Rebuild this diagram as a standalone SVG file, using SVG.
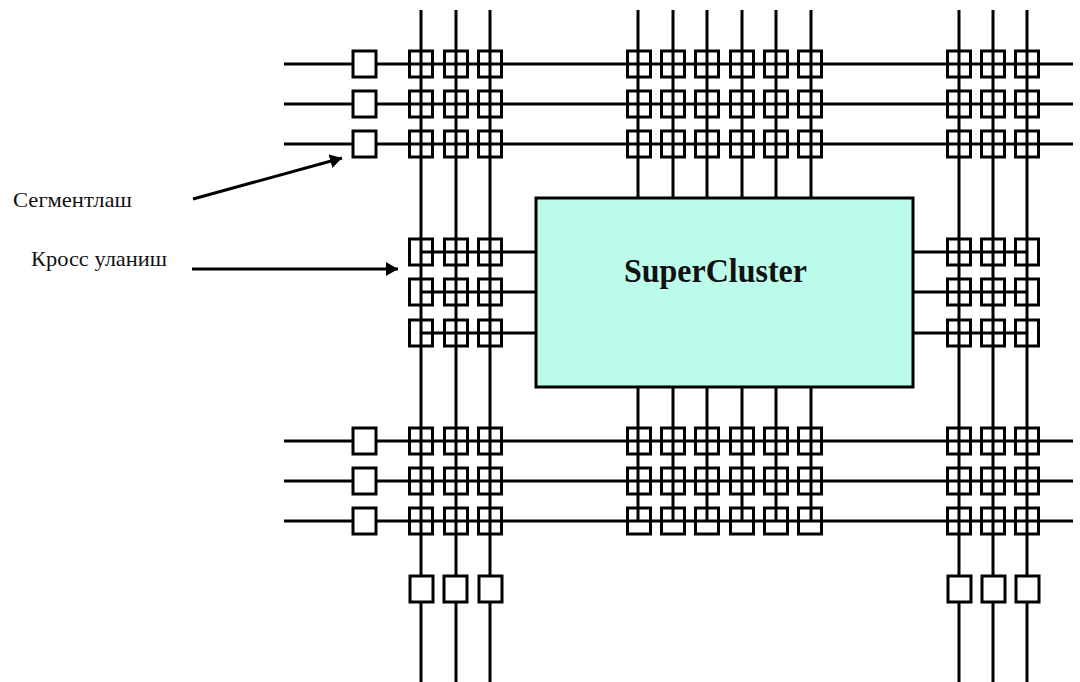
<svg xmlns="http://www.w3.org/2000/svg" width="1080" height="682" viewBox="0 0 1080 682">
<defs>
<marker id="ah" markerUnits="userSpaceOnUse" markerWidth="14" markerHeight="16" refX="12" refY="7" orient="auto"><path d="M0 0L12 7L0 14Z" fill="#000"/></marker>
<g id="x"><rect x="-11.500" y="-13" width="23" height="26" class="s"/></g>
</defs>
<style>
.l{stroke:#000;stroke-width:3;fill:none}
.s{stroke:#000;stroke-width:3;fill:none}
.w{stroke:#000;stroke-width:3;fill:#fff}
.t{font-family:"Liberation Serif",serif;font-size:22px;fill:#111}
</style>
<rect width="1080" height="682" fill="#fff"/>
<g id="connectors">
<path class="l" d="M284 64H1073M284 104H1073M284 144H1073M284 441H1073M284 481H1073M284 521H1073"/>
<path class="l" d="M421 10V682M456 10V682M490 10V682M959 10V682M993 10V682M1027 10V682"/>
<path class="l" d="M638 10V198M673 10V198M707 10V198M742 10V198M776 10V198M811 10V198"/>
<path class="l" d="M638 387V521M673 387V521M707 387V521M742 387V521M776 387V521M811 387V521"/>
<path class="l" d="M421 252H535M421 292H535M421 333H535M913 252H1027M913 292H1027M913 333H1027"/>
<path class="l" marker-end="url(#ah)" d="M193 199L342 158"/>
<path class="l" marker-end="url(#ah)" d="M192 269H398"/>
</g>
<g id="supercluster"><rect x="536" y="198" width="377" height="189" fill="#bcfceb" stroke="#000" stroke-width="3"/>
<text x="624" y="282" font-family="Liberation Serif, serif" font-weight="700" font-size="34" fill="#111" textLength="183" lengthAdjust="spacingAndGlyphs">SuperCluster</text></g>
<g id="seg-left"><rect class="w" x="353" y="51" width="23" height="26"/><rect class="w" x="353" y="91" width="23" height="26"/><rect class="w" x="353" y="131" width="23" height="26"/><rect class="w" x="353" y="428" width="23" height="26"/><rect class="w" x="353" y="468" width="23" height="26"/><rect class="w" x="353" y="508" width="23" height="26"/></g>
<g id="seg-bottom"><rect class="w" x="410" y="576" width="23" height="26"/><rect class="w" x="444" y="576" width="23" height="26"/><rect class="w" x="479" y="576" width="23" height="26"/><rect class="w" x="948" y="576" width="23" height="26"/><rect class="w" x="982" y="576" width="23" height="26"/><rect class="w" x="1016" y="576" width="23" height="26"/></g>
<g id="cross-top"><use href="#x" x="421" y="64"/><use href="#x" x="456" y="64"/><use href="#x" x="490" y="64"/><use href="#x" x="639" y="64"/><use href="#x" x="673" y="64"/><use href="#x" x="707" y="64"/><use href="#x" x="742" y="64"/><use href="#x" x="776" y="64"/><use href="#x" x="810" y="64"/><use href="#x" x="959" y="64"/><use href="#x" x="993" y="64"/><use href="#x" x="1027" y="64"/>
<use href="#x" x="421" y="104"/><use href="#x" x="456" y="104"/><use href="#x" x="490" y="104"/><use href="#x" x="639" y="104"/><use href="#x" x="673" y="104"/><use href="#x" x="707" y="104"/><use href="#x" x="742" y="104"/><use href="#x" x="776" y="104"/><use href="#x" x="810" y="104"/><use href="#x" x="959" y="104"/><use href="#x" x="993" y="104"/><use href="#x" x="1027" y="104"/>
<use href="#x" x="421" y="144"/><use href="#x" x="456" y="144"/><use href="#x" x="490" y="144"/><use href="#x" x="639" y="144"/><use href="#x" x="673" y="144"/><use href="#x" x="707" y="144"/><use href="#x" x="742" y="144"/><use href="#x" x="776" y="144"/><use href="#x" x="810" y="144"/><use href="#x" x="959" y="144"/><use href="#x" x="993" y="144"/><use href="#x" x="1027" y="144"/></g>
<g id="cross-mid"><use href="#x" x="421" y="252"/><use href="#x" x="456" y="252"/><use href="#x" x="490" y="252"/><use href="#x" x="959" y="252"/><use href="#x" x="993" y="252"/><use href="#x" x="1027" y="252"/>
<use href="#x" x="421" y="292"/><use href="#x" x="456" y="292"/><use href="#x" x="490" y="292"/><use href="#x" x="959" y="292"/><use href="#x" x="993" y="292"/><use href="#x" x="1027" y="292"/>
<use href="#x" x="421" y="333"/><use href="#x" x="456" y="333"/><use href="#x" x="490" y="333"/><use href="#x" x="959" y="333"/><use href="#x" x="993" y="333"/><use href="#x" x="1027" y="333"/></g>
<g id="cross-bottom"><use href="#x" x="421" y="441"/><use href="#x" x="456" y="441"/><use href="#x" x="490" y="441"/><use href="#x" x="639" y="441"/><use href="#x" x="673" y="441"/><use href="#x" x="707" y="441"/><use href="#x" x="742" y="441"/><use href="#x" x="776" y="441"/><use href="#x" x="810" y="441"/><use href="#x" x="959" y="441"/><use href="#x" x="993" y="441"/><use href="#x" x="1027" y="441"/>
<use href="#x" x="421" y="481"/><use href="#x" x="456" y="481"/><use href="#x" x="490" y="481"/><use href="#x" x="639" y="481"/><use href="#x" x="673" y="481"/><use href="#x" x="707" y="481"/><use href="#x" x="742" y="481"/><use href="#x" x="776" y="481"/><use href="#x" x="810" y="481"/><use href="#x" x="959" y="481"/><use href="#x" x="993" y="481"/><use href="#x" x="1027" y="481"/>
<use href="#x" x="421" y="521"/><use href="#x" x="456" y="521"/><use href="#x" x="490" y="521"/><use href="#x" x="639" y="521"/><use href="#x" x="673" y="521"/><use href="#x" x="707" y="521"/><use href="#x" x="742" y="521"/><use href="#x" x="776" y="521"/><use href="#x" x="810" y="521"/><use href="#x" x="959" y="521"/><use href="#x" x="993" y="521"/><use href="#x" x="1027" y="521"/></g>
<g id="labels"><text class="t" x="13" y="207" textLength="119" lengthAdjust="spacingAndGlyphs">Сегментлаш</text><text class="t" x="31" y="266" textLength="136" lengthAdjust="spacingAndGlyphs">Кросс уланиш</text></g>
</svg>
